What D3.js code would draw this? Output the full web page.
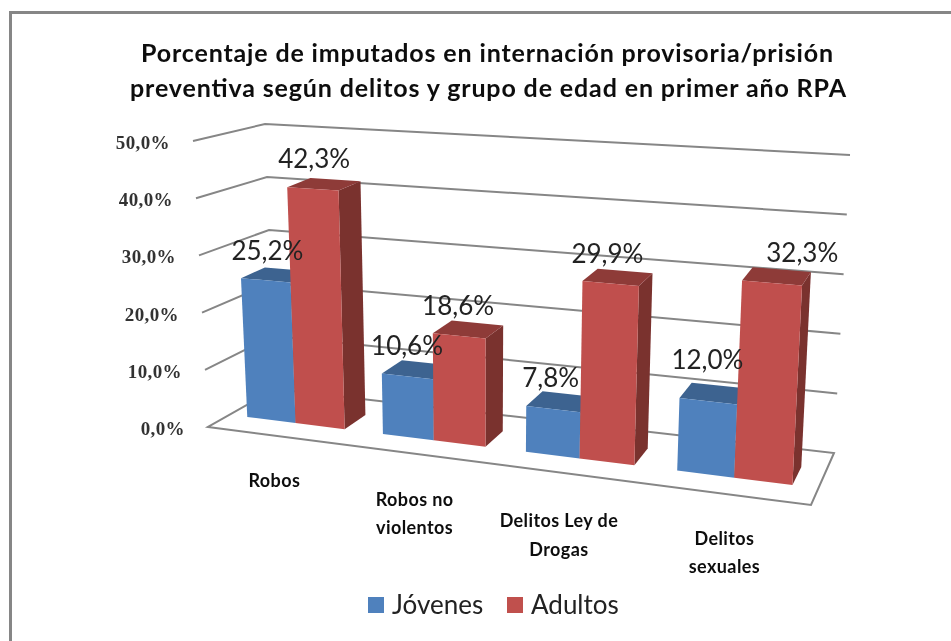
<!DOCTYPE html>
<html><head><meta charset="utf-8">
<style>html,body{margin:0;padding:0;background:#fff}svg{display:block}</style>
<script src="https://cdn.jsdelivr.net/npm/d3@7"></script>
</head><body><svg id="c" width="951" height="641"></svg>
<script>
const titleLines = ["Porcentaje de imputados  en internación provisoria/prisión","preventiva según delitos y grupo de edad en primer año RPA"];
const categories = ["Robos","Robos no|violentos","Delitos Ley de|Drogas","Delitos|sexuales"];
const seriesNames = ["Jóvenes","Adultos"];
const jovenes = [25.2,10.6,7.8,12.0];
const adultos = [42.3,18.6,29.9,32.3];
const yTicks = [0,10,20,30,40,50];
const seriesValues = [jovenes,adultos];
const fmt = v => v.toFixed(1).replace(".",",")+"%";

const front = ["#4F81BD","#C0504D"], topC = ["#3D6390","#8E3A38"], side = ["#35577F","#7A302E"];
const GRID="#868686";
const svg = d3.select("#c");
const defs = svg.append("defs");
defs.append("filter").attr("id","soft").attr("x","-5%").attr("y","-5%").attr("width","110%").attr("height","110%")
  .append("feGaussianBlur").attr("stdDeviation",0.55);
defs.append("filter").attr("id","softT").attr("x","-5%").attr("y","-20%").attr("width","110%").attr("height","140%")
  .append("feGaussianBlur").attr("stdDeviation",0.35);

// unit-square -> quad map: perspective softened with a bilinear blend
const PERSP=0.65;
function quadMap(q){
  const [[x0,y0],[x1,y1],[x2,y2],[x3,y3]] = q;
  const dx1=x1-x2,dx2=x3-x2,sx=x0-x1+x2-x3,dy1=y1-y2,dy2=y3-y2,sy=y0-y1+y2-y3;
  const den=dx1*dy2-dx2*dy1, g=(sx*dy2-dx2*sy)/den, h=(dx1*sy-sx*dy1)/den;
  const a=x1-x0+g*x1,b=x3-x0+h*x3,d=y1-y0+g*y1,e=y3-y0+h*y3;
  return (u,v)=>{
    const w=g*u+h*v+1, hx=(a*u+b*v+x0)/w, hy=(d*u+e*v+y0)/w;
    const bx=(1-v)*((1-u)*x0+u*x1)+v*((1-u)*x3+u*x2), by=(1-v)*((1-u)*y0+u*y1)+v*((1-u)*y3+u*y2);
    return [PERSP*hx+(1-PERSP)*bx,PERSP*hy+(1-PERSP)*by];
  };
}
// plot box: floor quad (front-left, front-right, back-right, back-left) and the rise to 50% at each corner
const floorMap = quadMap([[208,427],[811,505],[834,453],[275,389]]);
const riseFL=[-15,-286], riseFR=[16,-325], riseBR=[16,-298], riseBL=[-10,-265];
const yScale = d3.scaleLinear().domain([0,50]).range([0,1]);
const xBand = d3.scaleBand().domain(d3.range(categories.length)).range([-0.003,0.997]).paddingInner(0.277).paddingOuter(0.1465);
const xSeries = d3.scaleBand().domain([0,1]).range([0,xBand.bandwidth()]);
const DEPTH=[0.31,0.66];
function P(u,v,val){
  const t=yScale(val),a=floorMap(u,v),w=Math.sqrt(v);
  const lean=(1-v)*((1-u)*riseFL[0]+u*riseFR[0])+v*((1-u)*riseBL[0]+u*riseBR[0]);
  const rise=(1-w)*((1-u)*riseFL[1]+u*riseFR[1])+w*((1-u)*riseBL[1]+u*riseBR[1]);
  return [a[0]+lean*t,a[1]+rise*t];
}
const line=d3.line();
const poly=pts=>line(pts)+"Z";

const border=svg.append("g").attr("fill","none").attr("stroke",GRID).attr("stroke-width",3);
border.append("path").attr("d",line([[10.5,641],[10.5,12.5],[951,12.5]]));

const plot=svg.append("g").attr("filter","url(#soft)");
plot.append("path").attr("d",poly([P(0,0,0),P(1,0,0),P(1,1,0),P(0,1,0)]))
  .attr("fill","#fff").attr("stroke",GRID).attr("stroke-width",2);
plot.append("g").selectAll("path").data(yTicks.slice(1)).join("path")
  .attr("d",d=>line([P(0,0,d),P(0,1,d),P(1,1,d)]))
  .attr("fill","none").attr("stroke",GRID).attr("stroke-width",2);
categories.forEach((c,i)=>{
  seriesValues.forEach((vals,s)=>{
    const u0=xBand(i)+xSeries(s),u1=u0+xSeries.bandwidth(),[v0,v1]=DEPTH,val=vals[i];
    const g=plot.append("g");
    g.append("path").attr("d",poly([P(u1,v0,0),P(u1,v1,0),P(u1,v1,val),P(u1,v0,val)])).attr("fill",side[s]);
    g.append("path").attr("d",poly([P(u0,v0,val),P(u1,v0,val),P(u1,v1,val),P(u0,v1,val)])).attr("fill",topC[s]);
    g.append("path").attr("d",poly([P(u0,v0,0),P(u1,v0,0),P(u1,v0,val),P(u0,v0,val)])).attr("fill",front[s]);
  });
});

const txt=svg.append("g").attr("filter","url(#softT)").attr("fill","#111");
const tf="Lato, 'Open Sans', sans-serif";
const titleBox=[[141,692],[130,716]], titleY=[62,97];
titleLines.forEach((t,i)=>txt.append("text").text(t).attr("x",titleBox[i][0]).attr("y",titleY[i])
  .attr("textLength",titleBox[i][1]).attr("lengthAdjust","spacing")
  .attr("font-family",tf).attr("font-weight",700).attr("font-size",25).attr("fill","#0d0d0d"));
txt.append("g").selectAll("text").data(yTicks).join("text")
  .text(fmt).attr("x",d=>P(0,0,d)[0]-23).attr("y",d=>P(0,0,d)[1]+8)
  .attr("text-anchor","end").attr("font-family","'Liberation Serif','DejaVu Serif',serif")
  .attr("font-weight",700).attr("font-size",19).attr("letter-spacing",0.4).attr("fill","#333");
const catLabelNudge=[[-1,0],[-2,1],[-7,3],[0,0]];
categories.forEach((c,i)=>{
  const uc=xBand(i)+xBand.bandwidth()/2, p=P(uc,0,0), lines=c.split("|"), n=catLabelNudge[i];
  lines.forEach((l,k)=>txt.append("text").text(l).attr("x",p[0]+n[0]).attr("y",p[1]+51+n[1]+k*28.5)
    .attr("text-anchor","middle").attr("font-family",tf).attr("font-weight",700)
    .attr("font-size",18).attr("letter-spacing",0.4).attr("fill","#111"));
});
// data labels sit above each bar top; the Excel layout pushed two of them aside
const labelNudge=[[[0,0],[0,0],[0,0],[4,-10]],[[0,-2],[0,0],[0,0],[36,0]]];
seriesValues.forEach((vals,s)=>vals.forEach((v,i)=>{
  const uc=xBand(i)+xSeries(s)+xSeries.bandwidth()/2, p=P(uc,0.5,v), n=labelNudge[s][i];
  txt.append("text").text(fmt(v)).attr("x",p[0]-11+n[0]).attr("y",p[1]-14+n[1])
    .attr("text-anchor","middle").attr("font-family",tf).attr("font-size",26).attr("fill","#222");
}));
const legendX=d3.scalePoint().domain(seriesNames).range([368,507]);
seriesNames.forEach((n,s)=>{
  const x=legendX(n);
  svg.append("rect").attr("x",x).attr("y",597).attr("width",16).attr("height",16).attr("fill",front[s]);
  txt.append("text").text(n).attr("x",x+24).attr("y",614).attr("font-family",tf).attr("font-size",26).attr("fill","#222");
});
</script></body></html>
